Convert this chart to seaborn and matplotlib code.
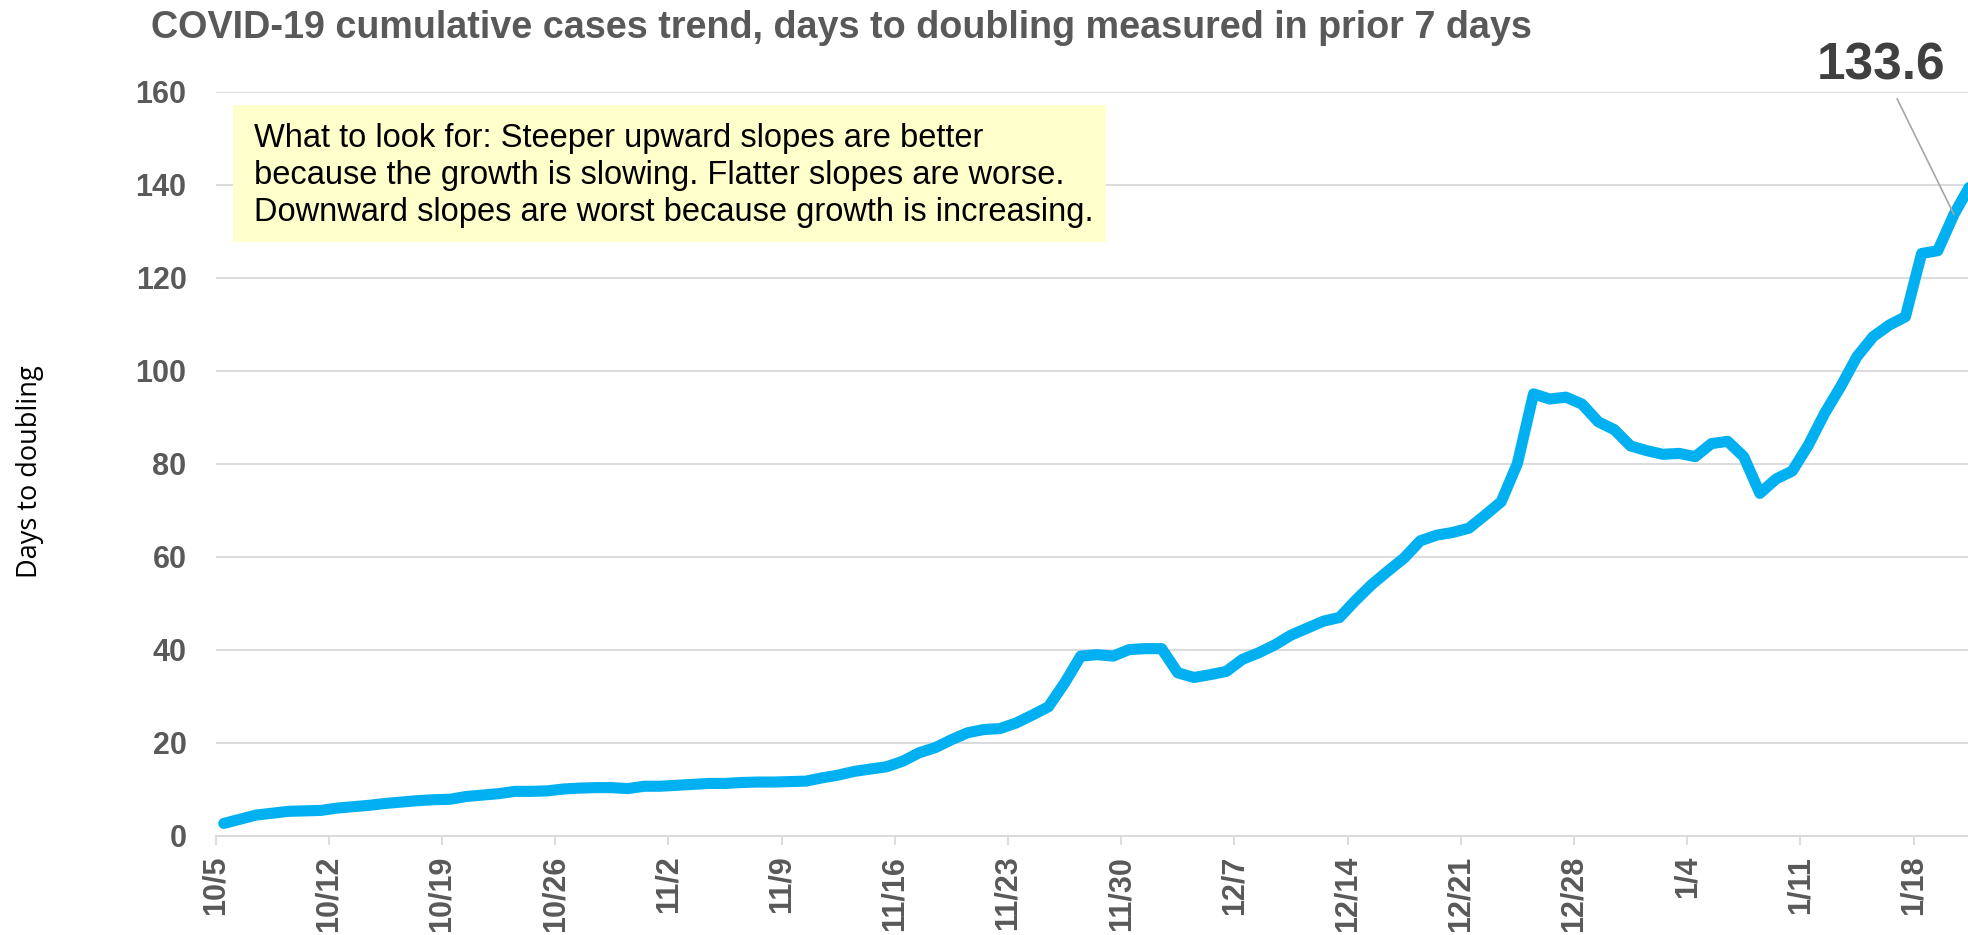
import matplotlib
matplotlib.use("Agg")
import matplotlib.pyplot as plt
import seaborn as sns
import pandas as pd
from matplotlib.patches import Rectangle

# ---------- data ----------
start_date = "2020-10-05"

days_to_doubling = [
    2.6, 3.5, 4.4, 4.8, 5.2, 5.3, 5.4,            # 10/5 - 10/11
    5.9, 6.2, 6.5, 6.9, 7.2, 7.5, 7.7,            # 10/12 - 10/18
    7.8, 8.4, 8.7, 9.0, 9.5, 9.5, 9.6,            # 10/19 - 10/25
    10.0, 10.2, 10.3, 10.3, 10.1, 10.6, 10.6,     # 10/26 - 11/1
    10.8, 11.0, 11.2, 11.2, 11.4, 11.5, 11.5,     # 11/2 - 11/8
    11.6, 11.7, 12.4, 13.0, 13.8, 14.3, 14.8,     # 11/9 - 11/15
    16.0, 17.8, 18.9, 20.6, 22.1, 22.8, 23.0,     # 11/16 - 11/22
    24.2, 25.9, 27.7, 32.8, 38.6, 38.9, 38.6,     # 11/23 - 11/29
    40.0, 40.2, 40.2, 35.0, 34.0, 34.6, 35.3,     # 11/30 - 12/6
    37.9, 39.3, 41.0, 43.1, 44.6, 46.1, 46.9,     # 12/7 - 12/13
    50.6, 54.0, 56.9, 59.7, 63.4, 64.6, 65.2,     # 12/14 - 12/20
    66.1, 68.9, 71.8, 80.0, 95.0, 93.9, 94.3,     # 12/21 - 12/27
    92.8, 89.0, 87.3, 83.8, 82.8, 82.0, 82.2,     # 12/28 - 1/3
    81.5, 84.3, 84.8, 81.5, 73.6, 76.7, 78.4,     # 1/4 - 1/10
    84.0, 90.8, 96.6, 103.0, 107.3, 109.8, 111.6, # 1/11 - 1/17
    125.2, 125.8, 133.6, 139.8,                   # 1/18 - 1/21
]

tick_labels = ["10/5", "10/12", "10/19", "10/26", "11/2", "11/9", "11/16",
               "11/23", "11/30", "12/7", "12/14", "12/21", "12/28", "1/4",
               "1/11", "1/18"]

label_value = 133.6
label_day = 107

title = "COVID-19 cumulative cases trend, days to doubling measured in prior 7 days"
note = ("What to look for: Steeper upward slopes are better\n"
        "because the growth is slowing. Flatter slopes are worse.\n"
        "Downward slopes are worst because growth is increasing.")

df = pd.DataFrame({
    "date": pd.date_range(start_date, periods=len(days_to_doubling), freq="D"),
    "days": days_to_doubling,
})
df["day_idx"] = range(len(df))

# ---------- style ----------
sns.set_theme(style="whitegrid", rc={"grid.color": "#d9d9d9", "grid.linewidth": 1.3})
plt.rcParams["font.family"] = ["Liberation Sans", "DejaVu Sans"]

grey = "#595959"

fig = plt.figure(figsize=(19.68, 9.35), dpi=100)
ax = fig.add_axes([0.1096, 0.1064, 0.8904, 0.7955])

sns.lineplot(data=df, x="day_idx", y="days", ax=ax, color="#00b0f0",
             linewidth=8, solid_capstyle="round", solid_joinstyle="round",
             zorder=3)

ax.set_ylim(0, 160)
ax.set_yticks(range(0, 161, 20))
ax.set_xlim(-0.5, len(df) - 1.13)
ax.set_xticks([i - 0.5 for i in range(0, len(df), 7)])
ax.set_xticklabels(tick_labels, rotation=90)

ax.grid(axis="x", visible=False)
ax.grid(axis="y", visible=True)
for side in ["left", "right", "top"]:
    ax.spines[side].set_visible(False)
ax.spines["bottom"].set_color("#d9d9d9")
ax.spines["bottom"].set_linewidth(1.3)

ax.tick_params(axis="x", bottom=True, length=6.5, width=1.3, color="#d9d9d9",
               pad=8, labelsize=22, labelcolor=grey)
ax.tick_params(axis="y", length=0, pad=21, labelsize=22, labelcolor=grey)
for lab in ax.get_xticklabels() + ax.get_yticklabels():
    lab.set_fontweight("bold")

ax.set_xlabel("")
ax.set_ylabel("")
fig.text(0.015, 0.496, "Days to doubling", rotation=90, ha="center", va="center",
         fontsize=19.5, color="black", family=["Open Sans", "DejaVu Sans"])

# title
fig.text(0.0765, 0.9705, title, ha="left", va="center", fontsize=27.2,
         fontweight="bold", color=grey)

# yellow note box
ax.add_patch(Rectangle((0.0099, 0.798), 0.498, 0.184, transform=ax.transAxes,
                       facecolor="#ffffcc", edgecolor="none", zorder=4))
ax.text(0.0216, 0.888, note, transform=ax.transAxes, ha="left", va="center",
        fontsize=23.5, color="black", linespacing=1.25, zorder=5)

# last value callout
ax.annotate(f"{label_value}", xy=(label_day, label_value),
            xytext=(1881 / 1968, 1 - 66 / 935), textcoords="figure fraction",
            ha="center", va="center", fontsize=37, fontweight="bold",
            color="#404040", annotation_clip=False,
            arrowprops=dict(arrowstyle="-", color="#a6a6a6", lw=1.2,
                            shrinkA=4, shrinkB=0))

fig.savefig("out.png", dpi=100)
